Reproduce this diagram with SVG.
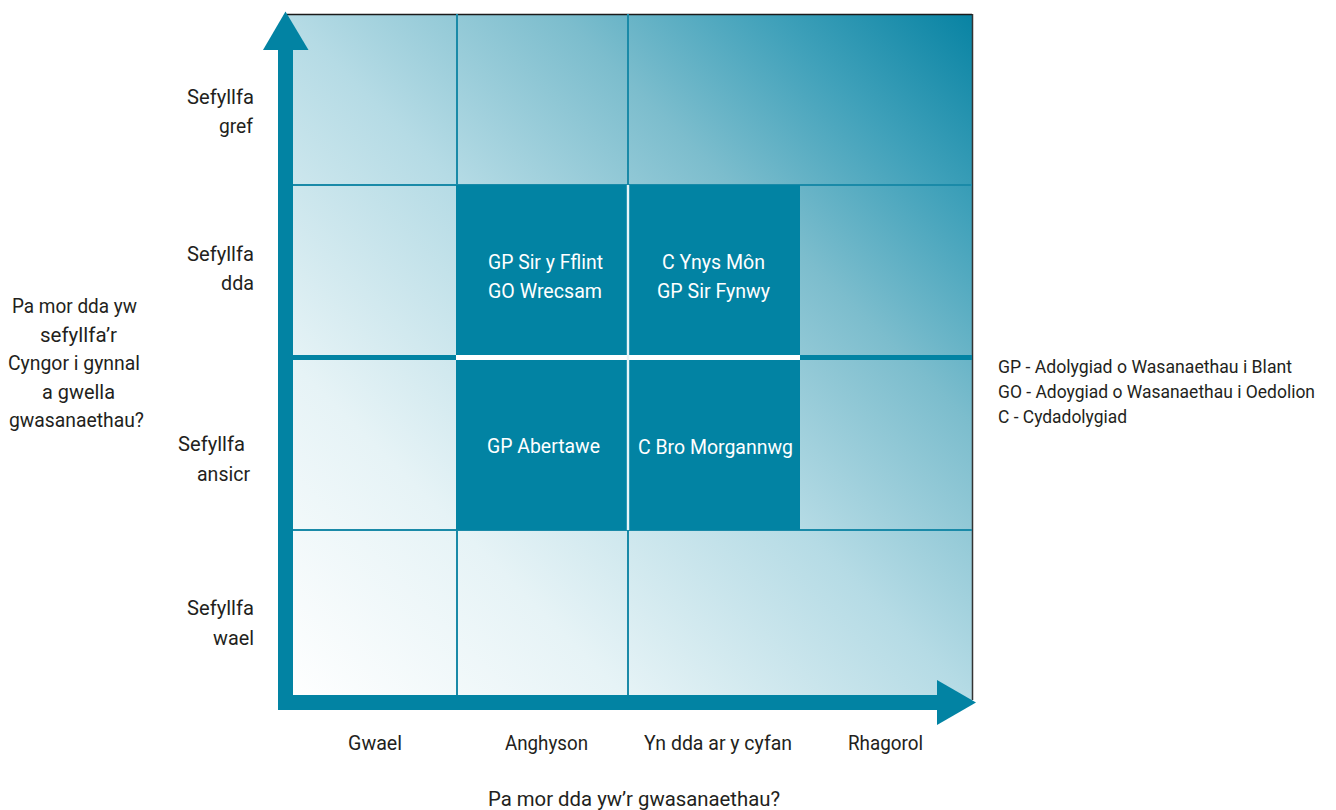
<svg xmlns="http://www.w3.org/2000/svg" width="1336" height="810" viewBox="0 0 1336 810">
  <defs>
    <linearGradient id="bg" gradientUnits="userSpaceOnUse" x1="287" y1="700" x2="972" y2="14">
      <stop offset="0" stop-color="#ffffff"/>
      <stop offset="0.25" stop-color="#e6f3f6"/>
      <stop offset="0.5" stop-color="#b5dbe5"/>
      <stop offset="0.7" stop-color="#7cbdcd"/>
      <stop offset="0.85" stop-color="#40a1ba"/>
      <stop offset="1" stop-color="#0883a3"/>
    </linearGradient>
  </defs>
  <style>
    text { font-family: Roboto, "Liberation Sans", sans-serif; font-size: 21px; }
    .lbl { fill: #231f20; }
    .legend { font-size: 18px; }
    .cell-text { fill: #ffffff; }
    .grid { stroke: #1a8aa8; stroke-width: 2; fill: none; }
    .dark { fill: #0283a3; }
    .axis { fill: #0283a3; }
  </style>
  <rect width="1336" height="810" fill="#ffffff"/>

  <g id="matrix">
    <rect x="287" y="14" width="685" height="686" fill="url(#bg)"/>
    <line x1="287" y1="14.5" x2="972" y2="14.5" stroke="#1a1a1a" stroke-width="1.5"/>
    <line x1="972.5" y1="14" x2="972.5" y2="700" stroke="#333" stroke-width="1.5"/>
    <g class="grid">
      <line x1="457" y1="14" x2="457" y2="185"/>
      <line x1="628" y1="14" x2="628" y2="185"/>
      <line x1="457" y1="530" x2="457" y2="695"/>
      <line x1="628" y1="530" x2="628" y2="695"/>
      <line x1="293" y1="185" x2="972" y2="185"/>
      <line x1="293" y1="530" x2="972" y2="530"/>
    </g>
    <rect x="293" y="355" width="679" height="5" fill="#0283a3"/>
  </g>

  <g id="cell-sir-y-fflint">
    <rect class="dark" x="456" y="185" width="172" height="170"/>
    <text class="cell-text" x="488" y="269" textLength="115" lengthAdjust="spacingAndGlyphs">GP Sir y Fflint</text>
    <text class="cell-text" x="488" y="298" textLength="114" lengthAdjust="spacingAndGlyphs">GO Wrecsam</text>
  </g>
  <g id="cell-ynys-mon">
    <rect class="dark" x="628" y="185" width="172" height="170"/>
    <text class="cell-text" x="662" y="269" textLength="103" lengthAdjust="spacingAndGlyphs">C Ynys Môn</text>
    <text class="cell-text" x="657" y="298" textLength="113" lengthAdjust="spacingAndGlyphs">GP Sir Fynwy</text>
  </g>
  <g id="cell-abertawe">
    <rect class="dark" x="456" y="360" width="172" height="170"/>
    <text class="cell-text" x="487" y="453" textLength="113" lengthAdjust="spacingAndGlyphs">GP Abertawe</text>
  </g>
  <g id="cell-bro-morgannwg">
    <rect class="dark" x="628" y="360" width="172" height="170"/>
    <text class="cell-text" x="638" y="454" textLength="155" lengthAdjust="spacingAndGlyphs">C Bro Morgannwg</text>
  </g>
  <g id="separators">
    <rect x="456" y="355" width="344" height="5" fill="#ffffff"/>
    <rect x="626.8" y="185" width="2.4" height="345" fill="#e8f4f7"/>
  </g>

  <g id="connectors">
    <rect class="axis" x="278" y="50" width="15" height="660"/>
    <polygon class="axis" points="263,50 285.5,11.5 308.5,50"/>
    <rect class="axis" x="278" y="695" width="660" height="15"/>
    <polygon class="axis" points="937,680 976,702.5 937,725"/>
  </g>

  <g id="row-labels">
    <text class="lbl" x="187" y="104" textLength="67" lengthAdjust="spacingAndGlyphs">Sefyllfa</text>
    <text class="lbl" x="219" y="133" textLength="34" lengthAdjust="spacingAndGlyphs">gref</text>
    <text class="lbl" x="187" y="261" textLength="67" lengthAdjust="spacingAndGlyphs">Sefyllfa</text>
    <text class="lbl" x="221" y="290" textLength="33" lengthAdjust="spacingAndGlyphs">dda</text>
    <text class="lbl" x="178" y="451" textLength="67" lengthAdjust="spacingAndGlyphs">Sefyllfa</text>
    <text class="lbl" x="197" y="481" textLength="53" lengthAdjust="spacingAndGlyphs">ansicr</text>
    <text class="lbl" x="187" y="615" textLength="67" lengthAdjust="spacingAndGlyphs">Sefyllfa</text>
    <text class="lbl" x="213" y="645" textLength="41" lengthAdjust="spacingAndGlyphs">wael</text>
  </g>

  <g id="y-axis-title">
    <text class="lbl" x="12" y="313" textLength="125" lengthAdjust="spacingAndGlyphs">Pa mor dda yw</text>
    <text class="lbl" x="40" y="342" textLength="77" lengthAdjust="spacingAndGlyphs">sefyllfa’r</text>
    <text class="lbl" x="8" y="370" textLength="132" lengthAdjust="spacingAndGlyphs">Cyngor i gynnal</text>
    <text class="lbl" x="42" y="399" textLength="73" lengthAdjust="spacingAndGlyphs">a gwella</text>
    <text class="lbl" x="9" y="427" textLength="135" lengthAdjust="spacingAndGlyphs">gwasanaethau?</text>
  </g>

  <g id="column-labels">
    <text class="lbl" x="348" y="750" textLength="54" lengthAdjust="spacingAndGlyphs">Gwael</text>
    <text class="lbl" x="505" y="750" textLength="83" lengthAdjust="spacingAndGlyphs">Anghyson</text>
    <text class="lbl" x="644" y="750" textLength="148" lengthAdjust="spacingAndGlyphs">Yn dda ar y cyfan</text>
    <text class="lbl" x="848" y="750" textLength="75" lengthAdjust="spacingAndGlyphs">Rhagorol</text>
  </g>

  <g id="x-axis-title">
    <text class="lbl" x="488" y="806" textLength="292" lengthAdjust="spacingAndGlyphs">Pa mor dda yw’r gwasanaethau?</text>
  </g>

  <g id="legend">
    <text class="lbl legend" x="998" y="373" textLength="294" lengthAdjust="spacingAndGlyphs">GP - Adolygiad o Wasanaethau i Blant</text>
    <text class="lbl legend" x="998" y="398" textLength="317" lengthAdjust="spacingAndGlyphs">GO - Adoygiad o Wasanaethau i Oedolion</text>
    <text class="lbl legend" x="998" y="423" textLength="129" lengthAdjust="spacingAndGlyphs">C - Cydadolygiad</text>
  </g>
</svg>
